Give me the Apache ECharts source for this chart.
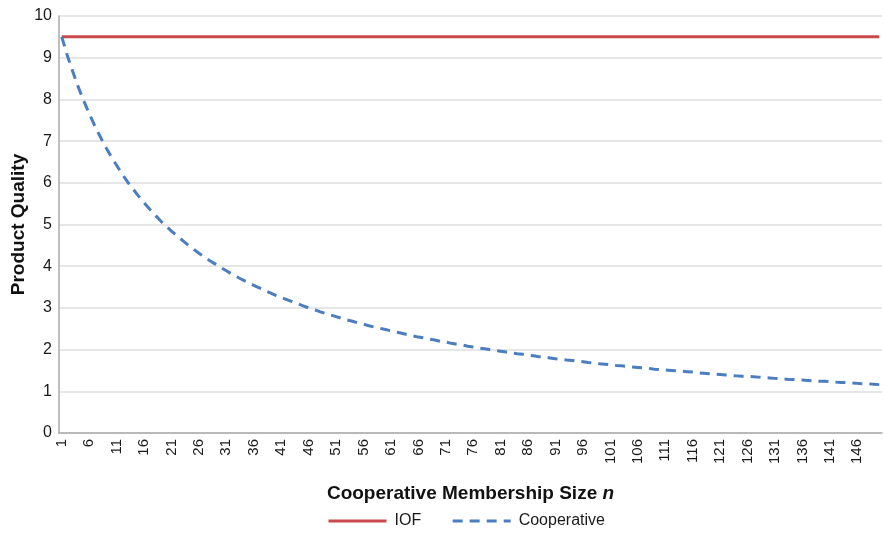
<!DOCTYPE html>
<html>
<head>
<meta charset="utf-8">
<script src="https://cdn.jsdelivr.net/npm/echarts@6/dist/echarts.min.js"></script>
<style>html,body{margin:0;padding:0;background:#fff}#c{width:884px;height:534px}</style>
</head>
<body>
<div id="c"></div>
<script>
var categories = [1,2,3,4,5,6,7,8,9,10,11,12,13,14,15,16,17,18,19,20,21,22,23,24,25,26,27,28,29,30,31,32,33,34,35,36,37,38,39,40,41,42,43,44,45,46,47,48,49,50,51,52,53,54,55,56,57,58,59,60,61,62,63,64,65,66,67,68,69,70,71,72,73,74,75,76,77,78,79,80,81,82,83,84,85,86,87,88,89,90,91,92,93,94,95,96,97,98,99,100,101,102,103,104,105,106,107,108,109,110,111,112,113,114,115,116,117,118,119,120,121,122,123,124,125,126,127,128,129,130,131,132,133,134,135,136,137,138,139,140,141,142,143,144,145,146,147,148,149,150];
var iof = [9.5,9.5,9.5,9.5,9.5,9.5,9.5,9.5,9.5,9.5,9.5,9.5,9.5,9.5,9.5,9.5,9.5,9.5,9.5,9.5,9.5,9.5,9.5,9.5,9.5,9.5,9.5,9.5,9.5,9.5,9.5,9.5,9.5,9.5,9.5,9.5,9.5,9.5,9.5,9.5,9.5,9.5,9.5,9.5,9.5,9.5,9.5,9.5,9.5,9.5,9.5,9.5,9.5,9.5,9.5,9.5,9.5,9.5,9.5,9.5,9.5,9.5,9.5,9.5,9.5,9.5,9.5,9.5,9.5,9.5,9.5,9.5,9.5,9.5,9.5,9.5,9.5,9.5,9.5,9.5,9.5,9.5,9.5,9.5,9.5,9.5,9.5,9.5,9.5,9.5,9.5,9.5,9.5,9.5,9.5,9.5,9.5,9.5,9.5,9.5,9.5,9.5,9.5,9.5,9.5,9.5,9.5,9.5,9.5,9.5,9.5,9.5,9.5,9.5,9.5,9.5,9.5,9.5,9.5,9.5,9.5,9.5,9.5,9.5,9.5,9.5,9.5,9.5,9.5,9.5,9.5,9.5,9.5,9.5,9.5,9.5,9.5,9.5,9.5,9.5,9.5,9.5,9.5,9.5,9.5,9.5,9.5,9.5,9.5,9.5];
var cooperative = [9.50,9.06,8.67,8.30,7.97,7.66,7.37,7.11,6.86,6.63,
6.42,6.21,6.02,5.85,5.68,5.52,5.37,5.23,5.09,4.96,
4.84,4.73,4.62,4.51,4.41,4.31,4.22,4.13,4.05,3.97,
3.89,3.81,3.74,3.67,3.61,3.54,3.48,3.42,3.36,3.30,
3.25,3.20,3.15,3.10,3.05,3.00,2.96,2.91,2.87,2.83,
2.79,2.75,2.71,2.68,2.64,2.61,2.57,2.54,2.51,2.48,
2.45,2.42,2.39,2.36,2.33,2.30,2.28,2.25,2.23,2.20,
2.18,2.15,2.13,2.11,2.08,2.06,2.04,2.02,2.00,1.98,
1.96,1.94,1.92,1.90,1.89,1.87,1.85,1.83,1.82,1.80,
1.78,1.77,1.75,1.74,1.72,1.71,1.69,1.68,1.66,1.65,
1.64,1.62,1.61,1.60,1.58,1.57,1.56,1.55,1.53,1.52,
1.51,1.50,1.49,1.48,1.47,1.46,1.44,1.43,1.42,1.41,
1.40,1.39,1.38,1.37,1.36,1.36,1.35,1.34,1.33,1.32,
1.31,1.30,1.29,1.28,1.28,1.27,1.26,1.25,1.24,1.24,
1.23,1.22,1.21,1.21,1.20,1.19,1.18,1.18,1.17,1.16];
var yTicks = {min: 0, max: 10, interval: 1};

var chart = echarts.init(document.getElementById('c'));
chart.setOption({
  animation: false,
  textStyle: {fontFamily: 'Liberation Sans, Arial, sans-serif'},
  grid: {left: 59, right: 2, top: 16, bottom: 101, containLabel: false, outerBoundsMode: 'none'},
  legend: {
    bottom: 0, left: 322, itemWidth: 58, itemHeight: 14, itemGap: 30,
    textStyle: {fontSize: 16, color: '#1a1a1a', padding: [0, 0, 0, 3]},
    itemStyle: {opacity: 0},
    lineStyle: {width: 3},
    data: ['IOF', 'Cooperative']
  },
  xAxis: {
    type: 'category', data: categories, boundaryGap: true,
    name: 'Cooperative Membership Size {i|n}', nameLocation: 'middle', nameGap: 51,
    nameTextStyle: {fontSize: 19, fontWeight: 'bold', color: '#111',
      rich: {i: {fontSize: 19, fontWeight: 'bold', fontStyle: 'italic', color: '#111'}}},
    axisLine: {lineStyle: {color: '#aaa', width: 1.5}},
    axisTick: {show: false},
    axisLabel: {interval: 4, rotate: 90, fontSize: 15, color: '#1a1a1a', margin: 6},
    splitLine: {show: false}
  },
  yAxis: {
    type: 'value', min: yTicks.min, max: yTicks.max, interval: yTicks.interval,
    name: 'Product Quality', nameLocation: 'middle', nameGap: 31, nameRotate: 90,
    nameMoveOverlap: false,
    nameTextStyle: {fontSize: 19, fontWeight: 'bold', color: '#111'},
    axisLine: {show: true, lineStyle: {color: '#aaa', width: 1.5}},
    axisTick: {show: false},
    axisLabel: {fontSize: 16, color: '#1a1a1a', margin: 7},
    splitLine: {lineStyle: {color: '#dedede', width: 1.5}}
  },
  series: [
    {name: 'IOF', type: 'line', data: iof, symbol: 'none',
     lineStyle: {color: '#C94A4C', width: 3}, itemStyle: {color: '#C94A4C'}},
    {name: 'Cooperative', type: 'line', data: cooperative, symbol: 'none',
     lineStyle: {color: '#4A7EC0', width: 3, type: [10, 7]}, itemStyle: {color: '#4A7EC0'}}
  ]
});
</script>
</body>
</html>
